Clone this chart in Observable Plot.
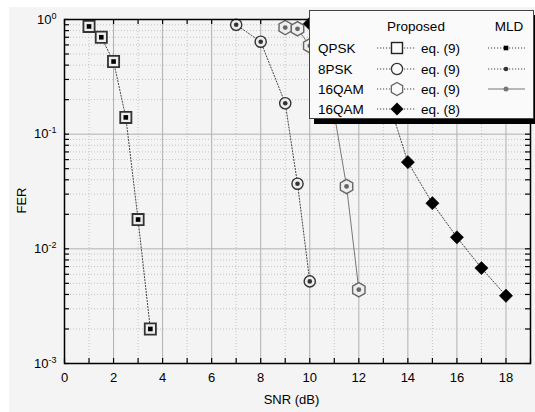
<!DOCTYPE html>
<html><head><meta charset="utf-8">
<script src="https://cdn.jsdelivr.net/npm/d3@7"></script>
<script src="https://cdn.jsdelivr.net/npm/@observablehq/plot@0.6"></script>
<style>
body{margin:0;background:#fff;font-family:"Liberation Sans",Arial,sans-serif;}
#wrap{position:relative;width:535px;height:412px;overflow:hidden;}
#bg{position:absolute;left:9px;top:7px;right:0;bottom:0;background:#f4f4f4;}
#chart{position:absolute;left:0;top:0;}
#legend{position:absolute;left:309px;top:10px;width:223px;height:107px;background:#fafafa;border:1px solid #444;box-shadow:5px 5px 0 #000;}
#legend svg{display:block;}
</style></head>
<body>
<div id="wrap"><div id="bg"></div><div id="chart"></div><div id="legend"></div></div>
<script>
// ---- data ----
const qpskSnr = [1, 1.5, 2, 2.5, 3, 3.5];
const qpskFer = [0.87, 0.70, 0.43, 0.14, 0.018, 0.002];
const psk8Snr = [7, 8, 9, 9.5, 10];
const psk8Fer = [0.90, 0.64, 0.186, 0.037, 0.0052];
const qam16Eq9Snr = [9, 9.5, 10, 10.5, 11, 11.5, 12];
const qam16Eq9Fer = [0.85, 0.83, 0.59, 0.40, 0.15, 0.035, 0.0044];
const qam16Eq8Snr = [10, 11, 12, 13, 14, 15, 16, 17, 18];
const qam16Eq8Fer = [0.92, 0.80, 0.55, 0.27, 0.057, 0.025, 0.0126, 0.0068, 0.0039];
const xTickLabels = [0, 2, 4, 6, 8, 10, 12, 14, 16, 18];
const xAllTicks = d3.range(0, 20);
const yDecades = [1e-3, 1e-2, 1e-1, 1];
const yMinor = [];
for (const d of [1e-3, 1e-2, 1e-1]) for (let k = 2; k <= 9; k++) yMinor.push(+(k * d).toPrecision(3));
const rows = ["QPSK", "8PSK", "16QAM", "16QAM"];
const eqLabels = ["eq. (9)", "eq. (9)", "eq. (9)", "eq. (8)"];

const tbl = (xs, ys) => xs.map((snr, i) => ({snr, fer: ys[i]}));
const qpsk = tbl(qpskSnr, qpskFer);
const psk8 = tbl(psk8Snr, psk8Fer);
const q9 = tbl(qam16Eq9Snr, qam16Eq9Fer);
const q8 = tbl(qam16Eq8Snr, qam16Eq8Fer);

const W = 535, H = 412, mL = 64, mR = 5, mT = 19, mB = 49;
const pW = W - mL - mR, pH = H - mT - mB;
const dotted = {stroke: "#444", strokeWidth: 1, strokeDasharray: "1.2,1.8"};
const XY = {x: "snr", y: "fer"};

const chart = Plot.plot({
  width: W, height: H, marginLeft: mL, marginRight: mR, marginTop: mT, marginBottom: mB,
  x: {type: "linear", domain: [0, 19]},
  y: {type: "log", domain: [1e-3, 1]},
  style: {background: "transparent", fontFamily: "'Liberation Sans', Arial, sans-serif", fontSize: "13px", color: "#000", overflow: "visible"},
  marks: [
    // grid
    Plot.ruleX(xAllTicks.filter(d => d % 2 === 1), {stroke: "#c4c4c4", strokeWidth: 1, strokeDasharray: "1,2"}),
    Plot.ruleY(yMinor, {stroke: "#c4c4c4", strokeWidth: 1, strokeDasharray: "1,2"}),
    Plot.ruleX(xTickLabels.filter(d => d > 0), {stroke: "#b0b0b0", strokeWidth: 1}),
    Plot.ruleY(yDecades, {stroke: "#b0b0b0", strokeWidth: 1}),
    // inward ticks
    Plot.tickX(xAllTicks, {x: d => d, insetTop: pH - 5, stroke: "#000", strokeWidth: 1.2}),
    Plot.tickX(xAllTicks, {x: d => d, insetBottom: pH - 5, stroke: "#000", strokeWidth: 1.2}),
    Plot.tickY(yDecades.concat(yMinor), {y: d => d, insetRight: pW - 5, stroke: "#000", strokeWidth: 1.2}),
    Plot.tickY(yDecades.concat(yMinor), {y: d => d, insetLeft: pW - 5, stroke: "#000", strokeWidth: 1.2}),
    // curves
    Plot.line(qpsk, {...XY, ...dotted}),
    Plot.line(psk8, {...XY, ...dotted}),
    Plot.line(q9, {...XY, stroke: "#777", strokeWidth: 1}),
    Plot.line(q8, {...XY, ...dotted}),
    // proposed markers
    Plot.dot(qpsk, {...XY, symbol: "square", r: 6.3, fill: "#eee", stroke: "#333", strokeWidth: 1.8}),
    Plot.dot(psk8, {...XY, symbol: "circle", r: 5.6, fill: "#eee", stroke: "#333", strokeWidth: 1.4}),
    Plot.dot(q9, {...XY, symbol: "hexagon", r: 6.2, fill: "#eee", stroke: "#666", strokeWidth: 1.4}),
    Plot.dot(q8, {...XY, symbol: "diamond2", r: 6, fill: "#000", stroke: "#000", strokeWidth: 0.5}),
    // MLD markers
    Plot.dot(qpsk, {...XY, symbol: "square", r: 2.6, fill: "#000"}),
    Plot.dot(psk8, {...XY, symbol: "circle", r: 2.3, fill: "#333"}),
    Plot.dot(q9, {...XY, symbol: "circle", r: 2.4, fill: "#666"}),
    // frame
    Plot.frame({stroke: "#000", strokeWidth: 1.5}),
    // axes labels
    Plot.axisX({ticks: xTickLabels, tickSize: 0, tickPadding: 9, tickFormat: d => String(d), label: null}),
    Plot.axisY({ticks: yDecades, tickSize: 0, tickPadding: 8, tickFormat: d => String(Math.round(Math.log10(d))), label: null}),
    Plot.text(["SNR (dB)"], {frameAnchor: "bottom", dy: 40, dx: -6, fontSize: 13}),
    Plot.text(["FER"], {frameAnchor: "left", textAnchor: "middle", rotate: -90, dx: -43, dy: 9, fontSize: 13})
  ]
});
// superscript exponents on y tick labels (real text)
chart.querySelectorAll('g[aria-label="y-axis tick label"] text').forEach(t => {
  const e = t.textContent.replace("−", "-");
  t.textContent = "10";
  const ts = document.createElementNS("http://www.w3.org/2000/svg", "tspan");
  ts.setAttribute("dy", "-0.55em");
  ts.setAttribute("font-size", "9px");
  ts.textContent = e;
  t.appendChild(ts);
});
document.getElementById("chart").appendChild(chart);

// ---- legend ----
const lg = d3.select("#legend").append("svg").attr("width", 223).attr("height", 107)
  .style("font-family", "'Liberation Sans', Arial, sans-serif").style("font-size", "13.5px");
lg.append("text").attr("x", 106).attr("y", 15).attr("dy", "0.35em").attr("text-anchor", "middle").text("Proposed");
lg.append("text").attr("x", 199).attr("y", 15).attr("dy", "0.35em").attr("text-anchor", "middle").text("MLD");
const rowY = [37, 58, 78, 98];
const hex = (cx, cy, r) => d3.range(6).map(i => { const a = Math.PI / 3 * i - Math.PI / 2; return [cx + r * Math.cos(a), cy + r * Math.sin(a)]; }).map(p => p.join(",")).join(" ");
rows.forEach((name, i) => {
  const y = rowY[i];
  lg.append("text").attr("x", 8).attr("y", y).attr("dy", "0.35em").text(name);
  lg.append("line").attr("x1", 67).attr("x2", 105).attr("y1", y).attr("y2", y).attr("stroke", "#444").attr("stroke-dasharray", "1.2,1.8");
  lg.append("text").attr("x", 111).attr("y", y).attr("dy", "0.35em").text(eqLabels[i]);
  const cx = 87;
  if (i === 0) lg.append("rect").attr("x", cx - 5.5).attr("y", y - 5.5).attr("width", 11).attr("height", 11).attr("fill", "#fafafa").attr("stroke", "#222").attr("stroke-width", 1.4);
  if (i === 1) lg.append("circle").attr("cx", cx).attr("cy", y).attr("r", 5.6).attr("fill", "#fafafa").attr("stroke", "#333").attr("stroke-width", 1.3);
  if (i === 2) lg.append("polygon").attr("points", hex(cx, y, 6.5)).attr("fill", "#fafafa").attr("stroke", "#666").attr("stroke-width", 1.3);
  if (i === 3) lg.append("polygon").attr("points", [[cx, y - 6.5], [cx + 6.5, y], [cx, y + 6.5], [cx - 6.5, y]].map(p => p.join(",")).join(" ")).attr("fill", "#000");
  // MLD samples
  if (i < 3) {
    const mx = 196;
    if (i < 2) lg.append("line").attr("x1", 178).attr("x2", 215).attr("y1", y).attr("y2", y).attr("stroke", "#444").attr("stroke-dasharray", "1.2,1.8");
    else lg.append("line").attr("x1", 178).attr("x2", 215).attr("y1", y).attr("y2", y).attr("stroke", "#777").attr("stroke-width", 1);
    if (i === 0) lg.append("rect").attr("x", mx - 2.3).attr("y", y - 2.3).attr("width", 4.6).attr("height", 4.6).attr("fill", "#000");
    if (i === 1) lg.append("circle").attr("cx", mx).attr("cy", y).attr("r", 2.3).attr("fill", "#333");
    if (i === 2) lg.append("circle").attr("cx", mx).attr("cy", y).attr("r", 2.5).attr("fill", "#777");
  }
});
</script>
</body></html>
